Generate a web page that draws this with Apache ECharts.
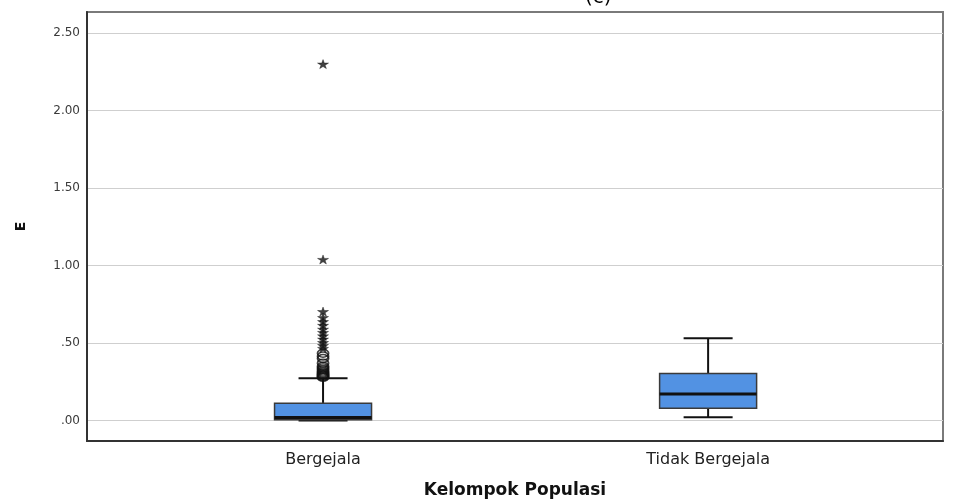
<!DOCTYPE html>
<html><head><meta charset="utf-8">
<script src="https://cdn.jsdelivr.net/npm/echarts@6/dist/echarts.min.js"></script>
<style>html,body{margin:0;padding:0;background:#fff}#c{width:953px;height:504px}</style>
</head><body><div id="c"></div>
<script>
const categories = ['Bergejala', 'Tidak Bergejala'];
const boxMin = [0.0, 0.021];
const boxQ1 = [0.005, 0.080];
const boxMedian = [0.02, 0.171];
const boxQ3 = [0.111, 0.304];
const boxMax = [0.272, 0.531];
const outlierCircles = [0.278, 0.283, 0.288, 0.293, 0.298, 0.305, 0.312, 0.32, 0.33, 0.34, 0.35, 0.37, 0.40, 0.415, 0.434];
const outlierStars = [0.465, 0.484, 0.503, 0.525, 0.546, 0.568, 0.589, 0.614, 0.638, 0.664, 0.703, 1.039, 2.299];
const yTicks = [0, 0.5, 1, 1.5, 2, 2.5];
const yTickLabels = ['.00', '.50', '1.00', '1.50', '2.00', '2.50'];
const xPositions = [1, 2];

const FONT = 'DejaVu Sans, Liberation Sans, sans-serif';
const STAR = 'path://M50,0 L61,35 L98,35 L68,57 L79,91 L50,70 L21,91 L32,57 L2,35 L39,35 Z';

const chart = echarts.init(document.getElementById('c'), null, {renderer: 'canvas'});
const boxData = categories.map((c, i) => [xPositions[i], boxMin[i], boxQ1[i], boxMedian[i], boxQ3[i], boxMax[i]]);

chart.setOption({
  animation: false,
  textStyle: {fontFamily: FONT},
  title: {text: '(c)', left: 580, top: -17, textStyle: {fontFamily: FONT, fontSize: 20, fontWeight: 'normal', color: '#000'}},
  grid: {left: 87, right: 10, top: 12, bottom: 62, show: true, borderColor: '#7a7a7a', borderWidth: 2, containLabel: false},
  xAxis: {
    type: 'value', min: 0.387, max: 2.61,
    axisLine: {show: true, onZero: false, lineStyle: {color: '#333', width: 2}},
    axisTick: {show: false, customValues: xPositions},
    splitLine: {show: false},
    axisLabel: {customValues: xPositions, margin: 11, fontSize: 16, color: '#222', fontFamily: FONT,
      formatter: v => categories[xPositions.indexOf(Math.round(v))] || ''},
    name: 'Kelompok Populasi', nameLocation: 'middle', nameGap: 41,
    nameTextStyle: {fontFamily: FONT, fontSize: 17, fontWeight: 'bold', color: '#111'}
  },
  yAxis: {
    type: 'value', min: -0.132, max: 2.635,
    axisLine: {show: true, lineStyle: {color: '#333', width: 2}},
    axisTick: {show: false, customValues: yTicks},
    splitLine: {show: true, lineStyle: {color: '#cfcfcf', width: 1}},
    axisLabel: {customValues: yTicks, margin: 7, fontSize: 12, color: '#3a3a3a', fontFamily: FONT,
      formatter: v => { const i = yTicks.findIndex(t => Math.abs(t - v) < 1e-6); return i >= 0 ? yTickLabels[i] : ''; }},
    name: 'E', nameLocation: 'middle', nameGap: 59, nameRotate: 90,
    nameTextStyle: {fontFamily: FONT, fontSize: 14, fontWeight: 'bold', color: '#111'}
  },
  series: [
    {
      type: 'custom',
      data: boxData,
      encode: {x: 0, y: [1, 2, 3, 4, 5]},
      z: 3,
      renderItem: function (params, api) {
        const x = api.value(0);
        const vMin = api.value(1), q1 = api.value(2), med = api.value(3), q3 = api.value(4), vMax = api.value(5);
        const pMin = api.coord([x, vMin]), pQ1 = api.coord([x, q1]), pMed = api.coord([x, med]);
        const pQ3 = api.coord([x, q3]), pMax = api.coord([x, vMax]);
        const cx = pMin[0];
        const bw = 97, cap = 49;
        const wStyle = {stroke: '#111', lineWidth: 2};
        return {
          type: 'group',
          children: [
            {type: 'line', shape: {x1: cx, y1: pQ3[1], x2: cx, y2: pMax[1]}, style: wStyle},
            {type: 'line', shape: {x1: cx, y1: pQ1[1], x2: cx, y2: pMin[1]}, style: wStyle},
            {type: 'line', shape: {x1: cx - cap / 2, y1: pMax[1], x2: cx + cap / 2, y2: pMax[1]}, style: wStyle},
            {type: 'line', shape: {x1: cx - cap / 2, y1: pMin[1], x2: cx + cap / 2, y2: pMin[1]}, style: wStyle},
            {type: 'rect', shape: {x: cx - bw / 2, y: pQ3[1], width: bw, height: pQ1[1] - pQ3[1]},
              style: {fill: '#5292E3', stroke: '#3a3a3a', lineWidth: 1.5}},
            {type: 'line', shape: {x1: cx - bw / 2, y1: pMed[1], x2: cx + bw / 2, y2: pMed[1]}, style: {stroke: '#111', lineWidth: 3}}
          ]
        };
      }
    },
    {
      type: 'scatter', z: 4,
      data: outlierCircles.map(v => [xPositions[0], v]),
      symbol: 'circle', symbolSize: [11, 8],
      itemStyle: {color: 'rgba(255,255,255,0)', borderColor: '#111', borderWidth: 1.6}
    },
    {
      type: 'scatter', z: 4,
      data: outlierStars.map(v => [xPositions[0], v]),
      symbol: STAR, symbolSize: [11, 9],
      itemStyle: {color: '#111', borderColor: '#111', borderWidth: 0.5}
    }
  ]
});
</script>
</body></html>
